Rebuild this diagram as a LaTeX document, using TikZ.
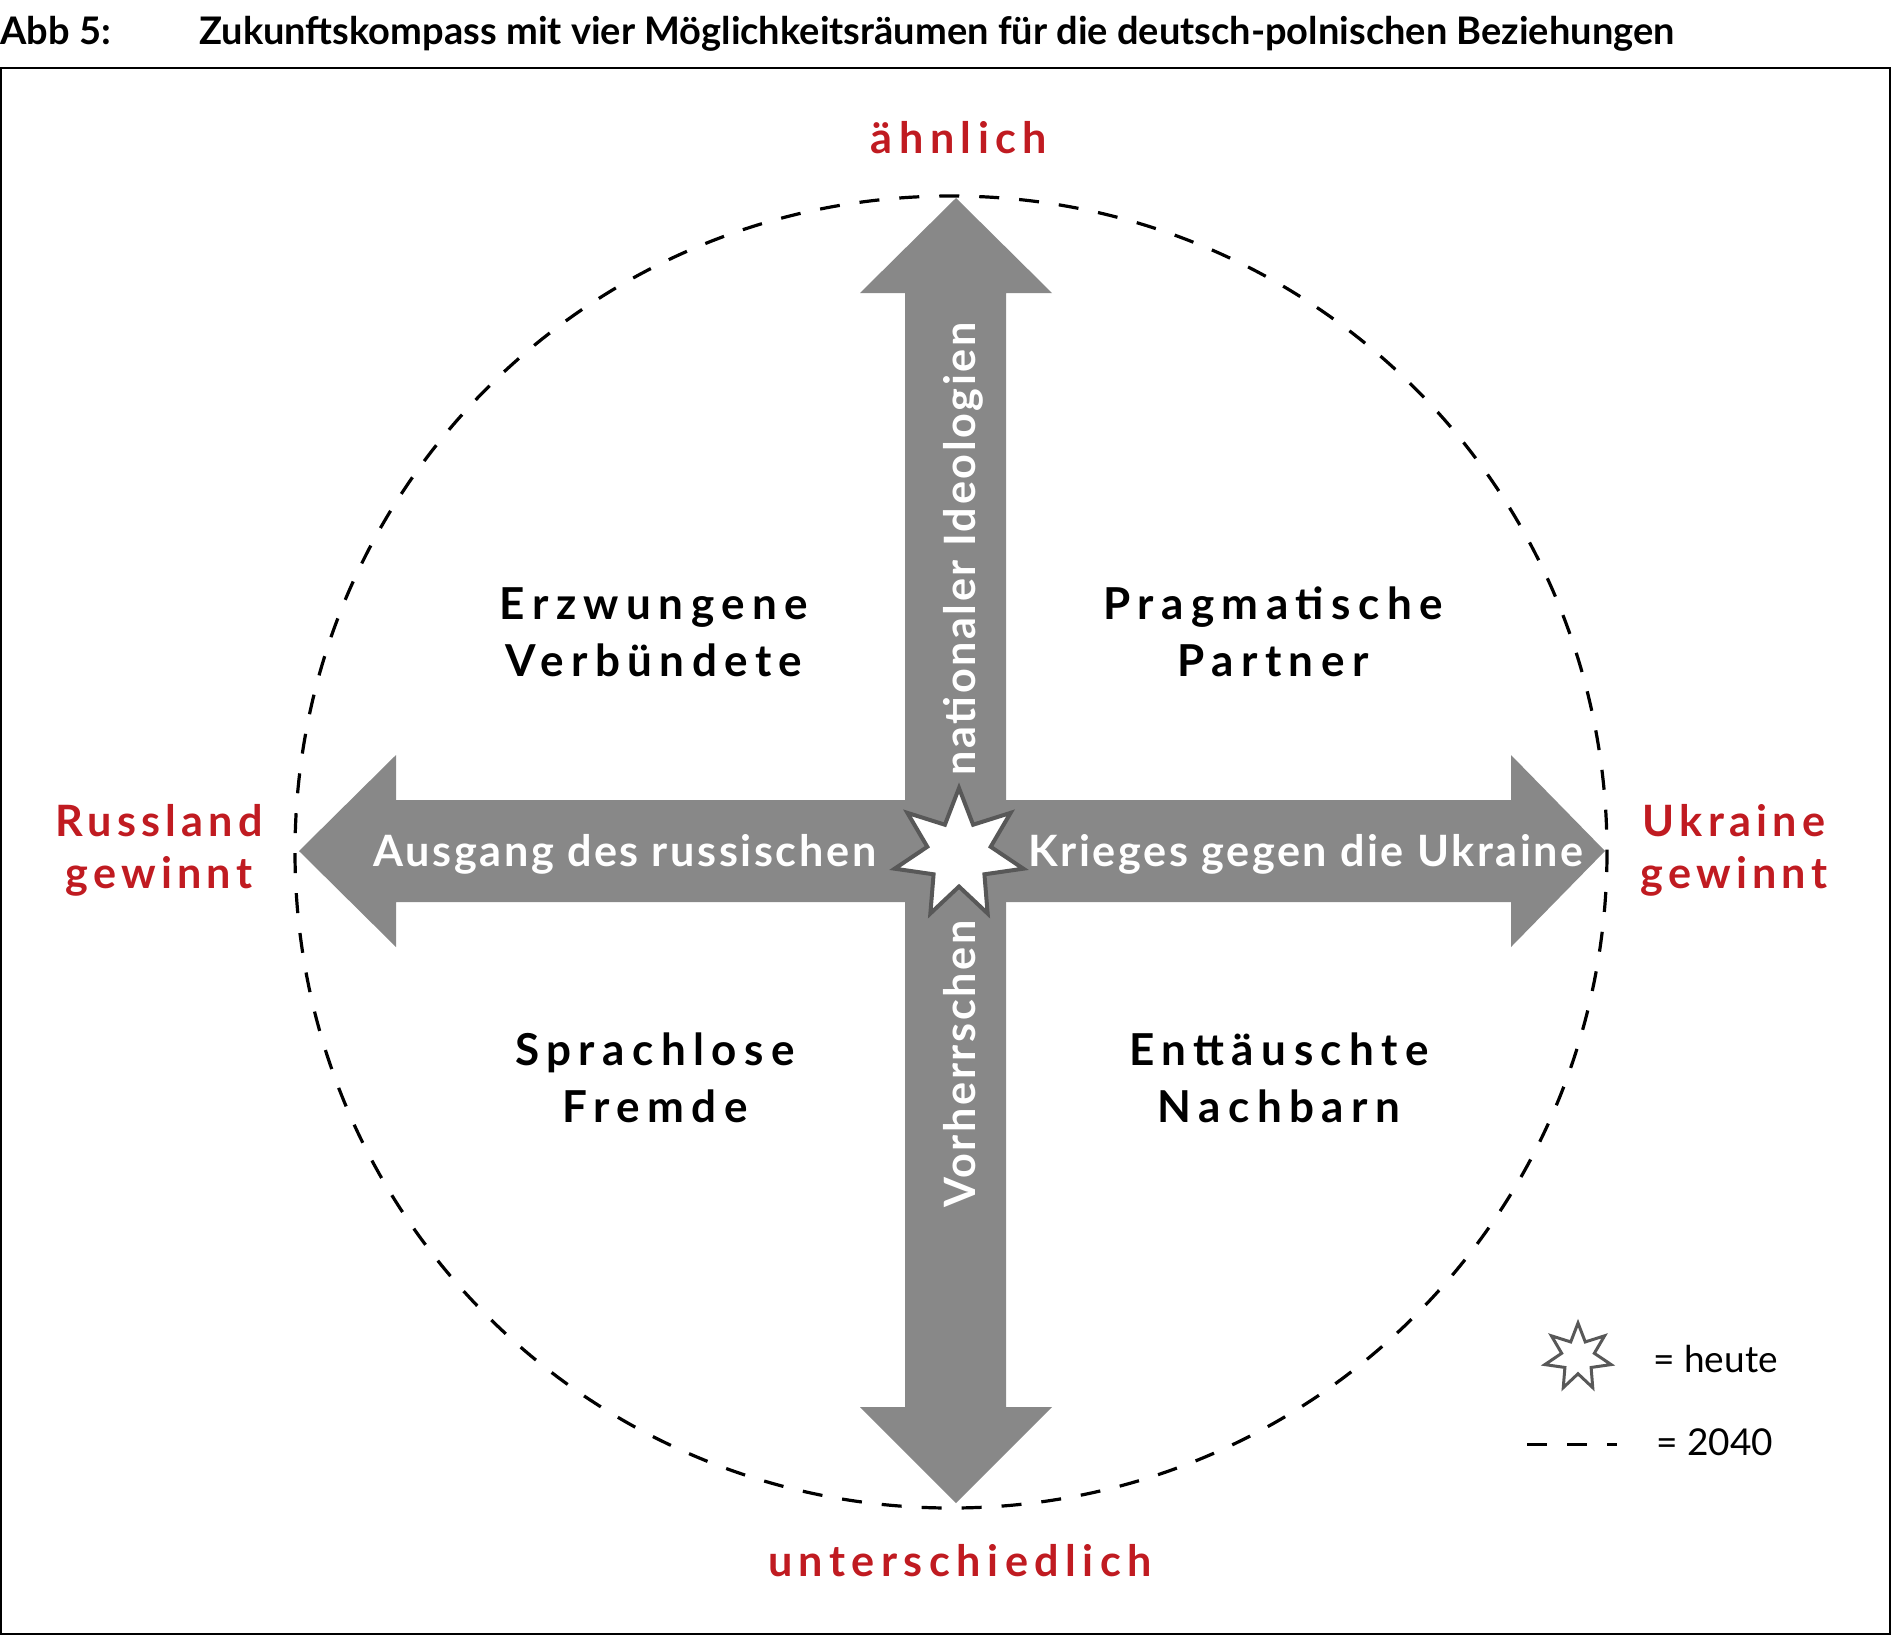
\documentclass[tikz,border=0pt]{standalone}
\usepackage{fontspec}
\setmainfont{Lato}
\newfontfamily\quadfont[LetterSpace=17]{Lato}
\newfontfamily\polefont[LetterSpace=12]{Lato}
\newfontfamily\widepolefont[LetterSpace=15]{Lato}
\newfontfamily\axisfont[LetterSpace=6]{Lato}
\usetikzlibrary{shapes.geometric}
\definecolor{accent}{RGB}{192,27,33}
\definecolor{arrowgray}{RGB}{136,136,136}
\definecolor{stargray}{RGB}{88,88,88}
\begin{document}
\begin{tikzpicture}[x=0.5pt,y=-0.5pt,
  quad/.style={anchor=base, inner sep=0, font=\quadfont\bfseries\fontsize{22}{26}\selectfont},
  pole/.style={anchor=base, inner sep=0, text=accent, font=\polefont\bfseries\fontsize{21.6}{26}\selectfont},
  widepole/.style={pole, font=\widepolefont\bfseries\fontsize{21.6}{26}\selectfont},
  axistext/.style={anchor=base, inner sep=0, text=white, font=\axisfont\bfseries\fontsize{21.6}{26}\selectfont},
  legendtext/.style={anchor=base west, inner sep=0, font=\fontsize{18.5}{22}\selectfont},
  titletext/.style={anchor=base west, inner sep=0, font=\bfseries\fontsize{19}{22}\selectfont},
  starmark/.style={star, star points=7, star point ratio=2.03, inner sep=0, draw=stargray, fill=white}]
\useasboundingbox (0,0) rectangle (1891,1635);
% frame
\draw[line width=1pt] (1,68) rectangle (1890,1634);
% title
\node[titletext] (abb) at (0,44) {Abb 5:};
\node[titletext] (title) at (199,44) {Zukunftskompass mit vier Möglichkeitsräumen für die deutsch-polnischen Beziehungen};
% 2040 circle
\coordinate (c) at (951,852);
\draw[line width=1.6pt, dash pattern=on 10pt off 10pt] (c) circle [radius=656];
% axes
\fill[arrowgray] (299,851) -- (396,755) -- (396,800) -- (1511,800) -- (1511,755) -- (1605,851)
  -- (1511,947) -- (1511,902) -- (396,902) -- (396,947) -- cycle;
\fill[arrowgray] (956,198) -- (1052,293) -- (1006,293) -- (1006,1407) -- (1052,1407) -- (956,1503)
  -- (860,1407) -- (905,1407) -- (905,293) -- (860,293) -- cycle;
% axis texts
\node[axistext] (ausgang) at (625,866) {Ausgang des russischen};
\node[axistext] (krieges) at (1306,866) {Krieges gegen die Ukraine};
\node[axistext, rotate=90] (natid) at (975,549) {nationaler Ideologien};
\node[axistext, rotate=90] (vorh) at (975,1064) {Vorherrschen};
% today star
\node[starmark, line width=2pt, minimum size=66pt] (today) at (959,854) {};
% poles
\node[widepole] (top) at (959,153) {ähnlich};
\node[widepole] (bottom) at (960,1576) {unterschiedlich};
\node[pole] (russ1) at (159,836) {Russland};
\node[pole] (russ2) at (159,888) {gewinnt};
\node[pole] (ukr1) at (1734,836) {Ukraine};
\node[pole] (ukr2) at (1734,888) {gewinnt};
% quadrants
\node[quad] (q1a) at (654,619) {Erzwungene};
\node[quad] (q1b) at (654,676) {Verbündete};
\node[quad] (q2a) at (1273,619) {Pragmatische};
\node[quad] (q2b) at (1273,676) {Partner};
\node[quad] (q3a) at (655,1065) {Sprachlose};
\node[quad] (q3b) at (655,1122) {Fremde};
\node[quad] (q4a) at (1279,1065) {Enttäuschte};
\node[quad] (q4b) at (1279,1122) {Nachbarn};
% legend
\node[starmark, line width=1.5pt, minimum size=34pt] (legstar) at (1578,1357) {};
\node[legendtext] (legheute) at (1653,1372) {= heute};
\coordinate (dl) at (1527,1444);
\coordinate (dr) at (1617,1444);
\draw[line width=1.5pt, dash pattern=on 10pt off 10pt] (dl) -- (dr);
\node[legendtext] (leg2040) at (1656,1455) {= 2040};
\end{tikzpicture}
\end{document}
